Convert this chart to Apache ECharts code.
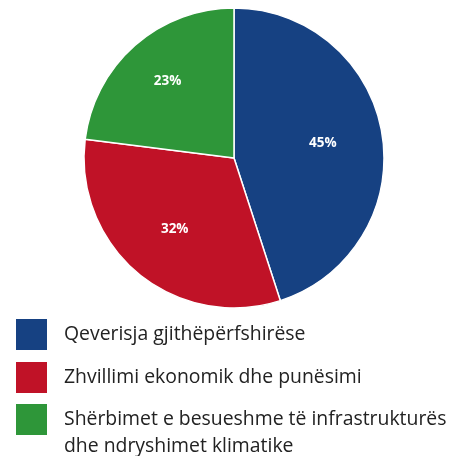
<!DOCTYPE html>
<html><head><meta charset="utf-8">
<script src="https://cdn.jsdelivr.net/npm/echarts@6/dist/echarts.min.js"></script>
<style>html,body{margin:0;padding:0;background:#fff}#c{width:449px;height:456px}</style>
</head><body><div id="c"></div>
<script>
const categories = ['Qeverisja gjithëpërfshirëse', 'Zhvillimi ekonomik dhe punësimi', 'Shërbimet e besueshme të infrastrukturës\ndhe ndryshimet klimatike'];
const values = [45, 32, 23];

// styling
const colors = ['#164182', '#c01227', '#2e9639'];
const labelOffsets = [[-3, 0], [0, -1], [-5, -7]];
const legendTops = [317, 360, 379];

const chart = echarts.init(document.getElementById('c'), null, {renderer: 'canvas'});
const data = categories.map((n, i) => ({name: n, value: values[i], itemStyle: {color: colors[i]}}));
const txt = {fontFamily: 'Open Sans', fontSize: 19.4, color: '#222', lineHeight: 27};
const legends = categories.map((n, i) => ({
  orient: 'vertical', left: 14, top: legendTops[i], padding: 0,
  itemWidth: 33, itemHeight: 33,
  icon: 'rect',
  selectedMode: false,
  textStyle: Object.assign({}, txt, {
    padding: [0, 0, 0, 11],
    rich: {b: txt, e: {fontSize: 19.4, lineHeight: 27}}
  }),
  formatter: function (name) {
    if (name.indexOf('\n') >= 0) return '{e| }\n{b|' + name.split('\n').join('}\n{b|') + '}';
    return name;
  },
  data: [{name: n}]
}));
chart.setOption({
  animation: false,
  legend: legends,
  series: [{
    type: 'pie', center: [234, 158], radius: [0, 150],
    startAngle: 90, clockwise: true,
    itemStyle: {borderColor: '#fff', borderWidth: 1.5},
    label: {show: false}, labelLine: {show: false},
    emphasis: {disabled: true},
    data: data
  }, {
    type: 'pie', center: [234, 158], radius: [0, 180],
    startAngle: 90, clockwise: true, silent: true,
    legendHoverLink: false,
    itemStyle: {color: 'rgba(0,0,0,0)', borderWidth: 0},
    label: {show: true, position: 'inside', formatter: '{c}%', color: '#fff',
      fontFamily: 'Open Sans', fontWeight: 'bold', fontSize: 13.5},
    labelLine: {show: false},
    emphasis: {disabled: true},
    data: categories.map((n, i) => ({name: n + ' ', value: values[i], label: {offset: labelOffsets[i]}}))
  }]
});
</script></body></html>
